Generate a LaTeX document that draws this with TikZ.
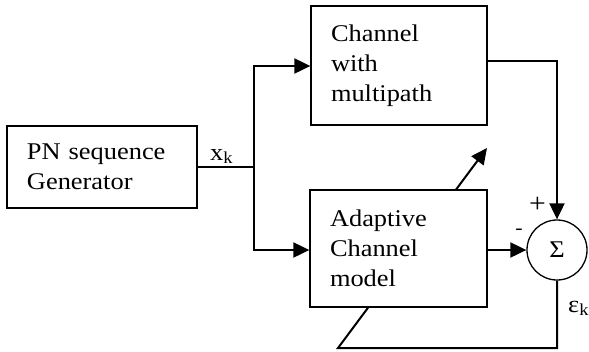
\documentclass[tikz,border=0pt]{standalone}
\usepackage{fontspec}
\setmainfont[FakeStretch=1.1]{Liberation Serif}
\usetikzlibrary{arrows.meta,backgrounds}
\begin{document}
\begin{tikzpicture}[x=1pt,y=-1pt,
  txt/.style={font=\fontsize{24}{30}\selectfont},
  box/.style={txt,draw,line width=1.3pt,fill=white,align=left,inner xsep=20pt,inner ysep=0pt},
  conn/.style={line width=2pt,line join=miter},
  arr/.style={conn,-{Triangle[length=16pt,width=15pt]}},
  lbl/.style={txt,inner sep=0pt}]
\useasboundingbox (0,0) rectangle (589,351);
\node[box,minimum width=190pt,minimum height=82pt,text width=150pt] (pn) at (102,167) {PN sequence\\Generator};
\node[box,minimum width=176pt,minimum height=119pt,text width=136pt] (chan) at (399,65.5) {Channel\\with\\multipath};
\node[box,minimum width=177pt,minimum height=117pt,text width=137pt] (adapt) at (398.5,248.5) {Adaptive\\Channel\\model};
\node[txt,draw,circle,line width=1.3pt,minimum size=60pt,inner sep=0pt,fill=white] (sum) at (557,250) {Σ};
\coordinate (split) at (254,167);
\coordinate (fb) at (338,348);
\coordinate (adtip) at (487,148);
\draw[conn] (pn.east) -- (split);
\draw[arr] (split) |- (chan.west |- {(0,66)});
\draw[arr] (split) |- (adapt.west |- sum.west);
\draw[arr] (adapt.east |- sum.west) -- (sum.west);
\draw[arr] (chan.east |- {(0,61)}) -| (sum.north);
\begin{pgfonlayer}{background}
\draw[arr] (sum.south) |- (fb) -- (adtip);
\end{pgfonlayer}
\node[lbl,anchor=base west] (xk) at (210,160) {x\textsubscript{k}};
\node[lbl,anchor=base west] (ek) at (568,312) {ε\textsubscript{k}};
\node[lbl,font=\fontsize{27}{30}\selectfont] (plus) at (537.5,205) {+};
\node[lbl,font=\fontsize{20}{24}\selectfont] (minus) at (519,232) {-};
\end{tikzpicture}
\end{document}
